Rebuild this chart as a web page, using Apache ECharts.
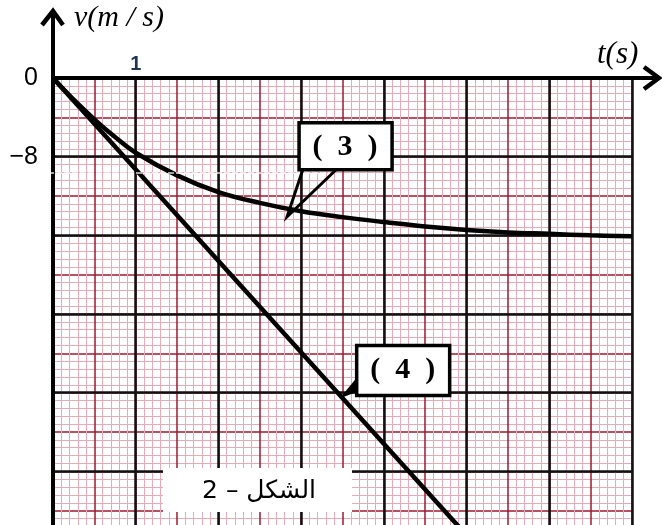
<!DOCTYPE html>
<html>
<head>
<meta charset="utf-8">
<script src="https://cdn.jsdelivr.net/npm/echarts@6/dist/echarts.min.js"></script>
<style>
    html, body { margin: 0; padding: 0; background: #fff; }
    #chart { width: 662px; height: 525px; }
</style>
</head>
<body>
<div id="chart"></div>
<script>
// curve (3): v(t)
var curve3T = [0, 0.25, 0.5, 0.75, 1, 1.5, 2, 2.5, 3, 3.5, 4, 4.5, 5, 5.5, 6, 6.5, 7];
var curve3V = [0, -2.2, -4.2, -6.0, -7.6, -9.9, -11.6, -12.7, -13.55, -14.15, -14.65, -15.1, -15.45, -15.7, -15.85, -16.0, -16.1];
// curve (4): straight line
var line4T = [0, 5];
var line4V = [0, -46.5];
// tick labels shown on the axes
var xTickLabels = {'1': '1'};
var yTickLabels = {'0': '0', '-8': '−8'};

function pairs(xs, ys) {
    return xs.map(function (x, i) { return [x, ys[i]]; });
}

var chart = echarts.init(document.getElementById('chart'));

// paper runs past the bottom edge of the picture
var gridBox = {left: 53, top: 78, width: 579, height: 472, outerBoundsMode: 'none', containLabel: false};

chart.setOption({
    animation: false,
    backgroundColor: '#fff',
    grid: [
        Object.assign({}, gridBox),
        Object.assign({}, gridBox)
    ],
    xAxis: [
        {   // fine paper grid (pink + dark red half lines)
            gridIndex: 0, type: 'value', min: 0, max: 7, interval: 0.5, z: 0,
            axisLine: {show: false}, axisTick: {show: false}, axisLabel: {show: false},
            splitLine: {show: true, lineStyle: {color: '#9c1830', width: 1.5}},
            minorTick: {show: false, splitNumber: 5},
            minorSplitLine: {show: true, lineStyle: {color: '#e8aab6', width: 1}}
        },
        {   // major black grid + axis
            gridIndex: 1, type: 'value', min: 0, max: 7, interval: 1, position: 'top', z: 1,
            axisLine: {show: true, onZero: false, lineStyle: {color: '#000', width: 4}},
            axisTick: {show: false},
            axisLabel: {
                show: true, margin: 4, color: '#1f3550', fontSize: 20, fontWeight: 'bold',
                fontFamily: 'Liberation Sans',
                formatter: function (v) { return xTickLabels[String(v)] || ''; }
            },
            splitLine: {show: true, lineStyle: {color: '#111', width: 2.5}}
        }
    ],
    yAxis: [
        {
            gridIndex: 0, type: 'value', min: -48, max: 0, interval: 4, z: 0,
            axisLine: {show: false}, axisTick: {show: false}, axisLabel: {show: false},
            splitLine: {show: true, lineStyle: {color: '#9c1830', width: 1.5}},
            minorTick: {show: false, splitNumber: 5},
            minorSplitLine: {show: true, lineStyle: {color: '#e8aab6', width: 1}}
        },
        {
            gridIndex: 1, type: 'value', min: -48, max: 0, interval: 8, z: 1,
            axisLine: {show: true, onZero: false, lineStyle: {color: '#000', width: 4}},
            axisTick: {show: false},
            axisLabel: {
                show: true, margin: 15, color: '#000', fontSize: 25,
                fontFamily: 'Liberation Sans',
                formatter: function (v) { return yTickLabels[String(v)] || ''; }
            },
            splitLine: {show: true, lineStyle: {color: '#111', width: 2.5}}
        }
    ],
    series: [
        {
            name: '(3)', type: 'line', xAxisIndex: 1, yAxisIndex: 1,
            data: pairs(curve3T, curve3V), smooth: 0.4, showSymbol: false,
            lineStyle: {color: '#000', width: 4.5}, z: 5
        },
        {
            name: '(4)', type: 'line', xAxisIndex: 1, yAxisIndex: 1,
            data: pairs(line4T, line4V), showSymbol: false,
            lineStyle: {color: '#000', width: 4.5}, z: 5
        }
    ]
});

// decorations placed from the axes' own scale
function px(t, v) { return chart.convertToPixel({xAxisIndex: 1, yAxisIndex: 1}, [t, v]); }
var o = px(0, 0);
var xEnd = px(7, 0);
var tip3 = px(2.83, -13.3);
var tip4 = px(3.49, -32.4);
var serif = 'Liberation Serif';

chart.setOption({
    graphic: [
        // scan artefact line
        {type: 'line', shape: {x1: 0, y1: 173, x2: 330, y2: 173}, z: 20,
            style: {stroke: '#fff', lineWidth: 1.5, lineDash: [6, 2], opacity: 0.85}},
        // y axis extension + arrow
        {type: 'line', shape: {x1: o[0], y1: o[1], x2: o[0], y2: 12}, z: 30,
            style: {stroke: '#000', lineWidth: 4}},
        {type: 'polyline', shape: {points: [[o[0] - 11, 25], [o[0], 11], [o[0] + 10, 25]]}, z: 30,
            style: {stroke: '#000', lineWidth: 4.5, fill: null, lineJoin: 'miter'}},
        // x axis extension + arrow
        {type: 'line', shape: {x1: xEnd[0], y1: o[1], x2: 658, y2: o[1]}, z: 30,
            style: {stroke: '#000', lineWidth: 4}},
        {type: 'polyline', shape: {points: [[644, o[1] - 11], [659, o[1]], [644, o[1] + 11]]}, z: 30,
            style: {stroke: '#000', lineWidth: 4.5, fill: null, lineJoin: 'miter'}},
        // axis names
        {type: 'text', x: 74, y: 3, z: 30,
            style: {text: 'v(m / s)', font: 'italic 30px ' + serif, fill: '#000'}},
        {type: 'text', x: 597, y: 39, z: 30,
            style: {text: 't(s)', font: 'italic 31px ' + serif, fill: '#000'}},
        // callout (3)
        {type: 'polyline', z: 30,
            shape: {points: [[tip3[0] + 16, tip3[1] - 40], [tip3[0], tip3[1] + 8], [tip3[0] + 50, tip3[1] - 40]]},
            style: {stroke: '#000', lineWidth: 3, fill: null}},
        {type: 'rect', z: 31, shape: {x: tip3[0] + 12, y: tip3[1] - 86, width: 93, height: 47},
            style: {fill: '#fff', stroke: '#000', lineWidth: 3.5}},
        {type: 'text', z: 32, x: tip3[0] + 58, y: tip3[1] - 62,
            style: {text: '(  3  )', font: 'bold 30px ' + serif, fill: '#000', align: 'center', verticalAlign: 'middle'}},
        // callout (4)
        {type: 'polygon', z: 30,
            shape: {points: [[tip4[0] + 16, tip4[1] - 20], [tip4[0] + 16, tip4[1] - 5], [tip4[0] - 2, tip4[1] + 2]]},
            style: {fill: '#000'}},
        {type: 'rect', z: 31, shape: {x: tip4[0] + 15, y: tip4[1] - 51, width: 93, height: 50},
            style: {fill: '#fff', stroke: '#000', lineWidth: 3.5}},
        {type: 'text', z: 32, x: tip4[0] + 61, y: tip4[1] - 26,
            style: {text: '(  4  )', font: 'bold 30px ' + serif, fill: '#000', align: 'center', verticalAlign: 'middle'}},
        // figure caption
        {type: 'rect', z: 31, shape: {x: 163, y: 468, width: 189, height: 44},
            style: {fill: '#fff'}},
        {type: 'text', z: 32, x: 259, y: 491,
            style: {text: '\u202Bالشكل – 2\u202C', font: '25px "DejaVu Sans"', fill: '#000', align: 'center', verticalAlign: 'middle'}}
    ]
});
</script>
</body>
</html>
